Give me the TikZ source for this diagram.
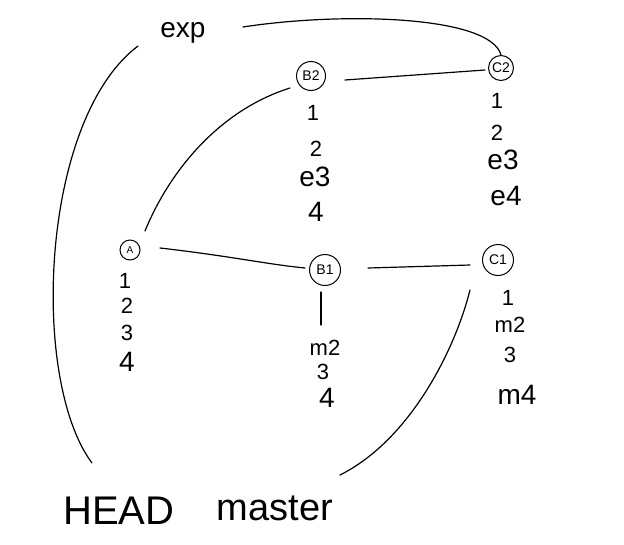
\documentclass[tikz,border=0pt]{standalone}
\usepackage{fontspec}
\setmainfont{Liberation Sans}
\begin{document}
\begin{tikzpicture}[x=1pt,y=-1pt,
  commit/.style={draw, circle, inner sep=0pt, line width=1pt, font=\fontsize{14}{14}\selectfont},
  lbl/.style={inner sep=0pt, font=\fontsize{22}{22}\selectfont},
  big/.style={inner sep=0pt, font=\fontsize{28}{28}\selectfont},
  ref/.style={inner sep=0pt},
  link/.style={line width=1.2pt, line cap=round}]
\useasboundingbox[fill=white] (0,0) rectangle (624,544);
% commits
\node[commit, minimum size=20pt, font=\fontsize{10}{10}\selectfont] (A) at (130,250) {A};
\node[commit, minimum size=29pt] (B2) at (311,76) {B2};
\node[commit, minimum size=25pt] (C2) at (501,68) {C2};
\node[commit, minimum size=31pt] (B1) at (325,270) {B1};
\node[commit, minimum size=31pt] (C1) at (498,260) {C1};
% refs
\node[ref, font=\fontsize{28}{28}\selectfont] (exp) at (183,33) {exp};
\node[ref, font=\fontsize{40}{40}\selectfont] (HEAD) at (119,511) {HEAD};
\node[ref, font=\fontsize{38}{38}\selectfont] (master) at (275,508) {master};
% A contents
\node[lbl] (a1) at (125,281) {1};
\node[lbl] (a2) at (127,306) {2};
\node[lbl] (a3) at (127,333) {3};
\node[big] (a4) at (127,362) {4};
% B2 contents
\node[lbl] (b21) at (313,113) {1};
\node[lbl] (b22) at (316,149) {2};
\node[big] (b23) at (315,177) {e3};
\node[big] (b24) at (316,212) {4};
% C2 contents
\node[lbl] (c21) at (497,101) {1};
\node[lbl] (c22) at (497,133) {2};
\node[big] (c23) at (503,160) {e3};
\node[big] (c24) at (506,196) {e4};
% B1 contents
\coordinate (b1s) at (321,292);
\coordinate (b1e) at (321,325);
\node[lbl] (b12) at (325,348) {m2};
\node[lbl] (b13) at (323,372) {3};
\node[big] (b14) at (327,398) {4};
% C1 contents
\node[lbl] (c11) at (508,298) {1};
\node[lbl] (c12) at (510,325) {m2};
\node[lbl] (c13) at (510,355) {3};
\node[big] (c14) at (517,395) {m4};
% free ends of connectors
\coordinate (expE) at (243,27);
\coordinate (expW) at (138,46);
\coordinate (aNE) at (145,231);
\coordinate (aE) at (160,248);
\coordinate (b2SW) at (290,88);
\coordinate (b2E) at (345,80);
\coordinate (c2W) at (485,70);
\coordinate (b1W) at (305,268);
\coordinate (b1E) at (368,268);
\coordinate (c1W) at (470,265);
\coordinate (c1SW) at (470,290);
\coordinate (headN) at (92,463);
\coordinate (masterNE) at (340,475);
% connectors
\draw[link] (b1s) -- (b1e);
\draw[link] (expE) .. controls (340,12) and (490,15) .. (C2.north);
\draw[link] (b2E) -- (c2W);
\draw[link] (aNE) .. controls (170,170) and (220,110) .. (b2SW);
\draw[link] (aE) .. controls (230,256) and (265,264) .. (b1W);
\draw[link] (b1E) -- (c1W);
\draw[link] (headN) .. controls (30,380) and (40,120) .. (expW);
\draw[link] (masterNE) .. controls (410,440) and (455,350) .. (c1SW);
\end{tikzpicture}
\end{document}
